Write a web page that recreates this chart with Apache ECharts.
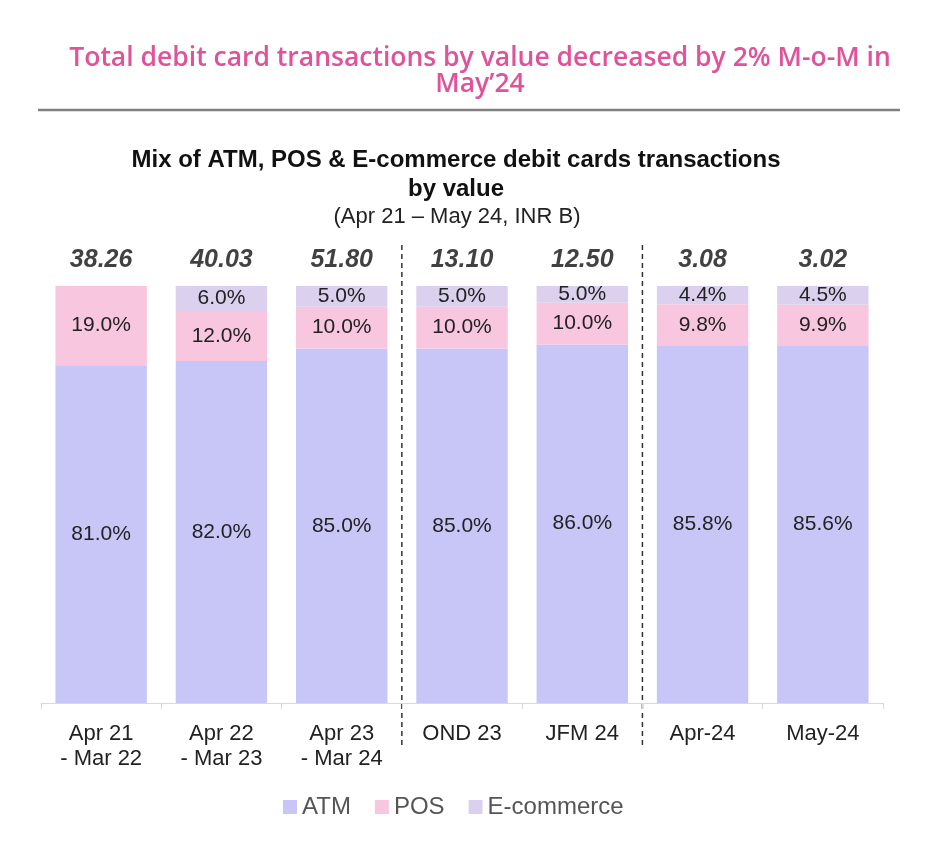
<!DOCTYPE html>
<html>
<head>
<meta charset="utf-8">
<script src="https://cdn.jsdelivr.net/npm/echarts@6/dist/echarts.min.js"></script>
<style>html,body{margin:0;padding:0;background:#fff;}#c{width:950px;height:846px;}</style>
</head>
<body>
<div id="c"></div>
<script>
const categories = ['Apr 21\n- Mar 22', 'Apr 22\n- Mar 23', 'Apr 23\n- Mar 24', 'OND 23', 'JFM 24', 'Apr-24', 'May-24'];
const atm = [81.0, 82.0, 85.0, 85.0, 86.0, 85.8, 85.6];
const pos = [19.0, 12.0, 10.0, 10.0, 10.0, 9.8, 9.9];
const ecommerce = [0, 6.0, 5.0, 5.0, 5.0, 4.4, 4.5];
const totals = ['38.26', '40.03', '51.80', '13.10', '12.50', '3.08', '3.02'];
const dividerAfter = [2, 4];

const FONT = 'Liberation Sans, Arial, sans-serif';
const chart = echarts.init(document.getElementById('c'));
const pctLabel = {
  show: true, position: 'inside', color: '#222', fontSize: 21, fontFamily: FONT,
  formatter: p => p.value > 0 ? p.value.toFixed(1) + '%' : ''
};
const option = {
  backgroundColor: '#fff',
  animation: false,
  title: [
    { text: 'Total debit card transactions by value decreased by 2% M-o-M in\nMay\u201924', left: 475, top: 40, textAlign: 'center',
      textStyle: { color: '#e0529a', fontSize: 26.5, fontWeight: 600, fontFamily: 'Open Sans, sans-serif', lineHeight: 26 } },
    { text: 'Mix of ATM, POS & E-commerce debit cards transactions\nby value', left: 451, top: 141, textAlign: 'center',
      textStyle: { color: '#111', fontSize: 24, fontWeight: 'bold', fontFamily: FONT, lineHeight: 29 } },
    { text: '(Apr 21 \u2013 May 24, INR B)', left: 452, top: 201, textAlign: 'center',
      textStyle: { color: '#222', fontSize: 22, fontWeight: 'normal', fontFamily: FONT } }
  ],
  legend: {
    bottom: 22, left: 278, icon: 'rect', itemWidth: 14, itemHeight: 14, itemGap: 24,
    data: ['ATM', 'POS', 'E-commerce'],
    textStyle: { color: '#555', fontSize: 24, fontFamily: FONT }
  },
  grid: { left: 41, right: 67, top: 286, bottom: 143 },
  xAxis: [{
    type: 'category', data: categories,
    axisLine: { lineStyle: { color: '#d9d9d9' } },
    axisTick: { show: true, length: 6, lineStyle: { color: '#d9d9d9' } },
    axisLabel: { color: '#222', fontSize: 22, lineHeight: 25, margin: 18, fontFamily: FONT }
  }],
  yAxis: [{ type: 'value', min: 0, max: 100, show: false }],
  series: [
    { name: 'ATM', type: 'bar', stack: 'a', data: atm, barWidth: '76%', itemStyle: { color: '#c8c5f7' }, label: pctLabel },
    { name: 'POS', type: 'bar', stack: 'a', data: pos, itemStyle: { color: '#f9c6df' }, label: pctLabel },
    { name: 'E-commerce', type: 'bar', stack: 'a', data: ecommerce, itemStyle: { color: '#dbd0ee' }, label: pctLabel },
    { name: 'Total', type: 'scatter', symbolSize: 0, data: totals.map(() => 100), silent: true,
      label: { show: true, position: 'top', distance: 13, color: '#111', fontSize: 25, fontWeight: 'bold', fontStyle: 'italic',
        fontFamily: FONT, formatter: p => totals[p.dataIndex] } }
  ]
};
chart.setOption(option);

const graphics = [{
  type: 'line', shape: { x1: 38, y1: 110, x2: 900, y2: 110 }, style: { stroke: '#808080', lineWidth: 2.5 }
}];
dividerAfter.forEach(i => {
  const a = chart.convertToPixel({ xAxisIndex: 0 }, categories[i]);
  const b = chart.convertToPixel({ xAxisIndex: 0 }, categories[i + 1]);
  const x = (a + b) / 2;
  graphics.push({ type: 'line', shape: { x1: x, y1: 245, x2: x, y2: 745 },
    style: { stroke: '#333', lineWidth: 1.5, lineDash: [5, 4] } });
});
chart.setOption({ graphic: graphics });
</script>
</body>
</html>
